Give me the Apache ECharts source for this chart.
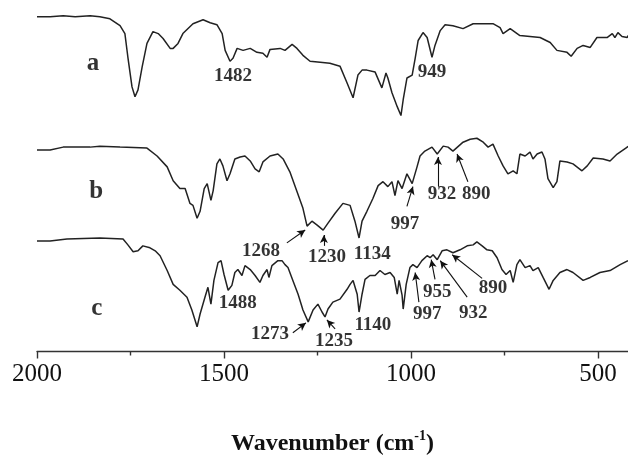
<!DOCTYPE html>
<html>
<head>
<meta charset="utf-8">
<script src="https://cdn.jsdelivr.net/npm/echarts@6/dist/echarts.min.js"></script>
<style>html,body{margin:0;padding:0;background:#fff}#c{width:628px;height:461px}</style>
</head>
<body>
<div id="c"></div>
<script>
// Wavenumbers (cm-1) and intensities (arbitrary offset transmittance units)
const wnA = [2000,1965,1930,1898,1858,1832,1805,1778,1765,1757,1746,1738,1730,1719,1706,1690,1676,1663,1644,1636,1623,1610,1583,1556,1537,1519,1505,1497,1484,1476,1465,1449,1430,1412,1396,1385,1377,1350,1337,1318,1305,1289,1270,1243,1217,1190,1171,1155,1142,1131,1118,1096,1078,1067,1062,1051,1037,1027,1021,1011,997,989,981,968,957,944,936,922,909,888,861,834,807,781,762,754,735,709,682,655,628,610,583,572,556,540,521,503,476,462,455,447,436,422,420];
const valA = [342,342,343,342,343,342,340,333,325,301,271,261,268,291,315,327,325,320,310,310,315,325,335,339,336,334,325,308,297,300,310,308,310,306,305,301,309,310,308,314,310,303,297,296,295,292,275,260,283,288,288,286,270,285,280,265,251,242,258,280,283,300,318,326,321,301,313,328,334,333,330,335,335,335,331,325,330,323,322,321,316,308,306,302,310,313,311,321,321,325,321,326,322,321,323];

const wnB = [2000,1965,1930,1858,1832,1778,1706,1679,1652,1636,1618,1604,1591,1583,1572,1564,1553,1545,1535,1529,1519,1511,1503,1492,1484,1471,1457,1444,1430,1417,1406,1396,1377,1356,1342,1324,1305,1289,1278,1265,1251,1235,1230,1222,1203,1182,1163,1150,1139,1131,1118,1102,1088,1075,1062,1051,1043,1035,1024,1011,997,984,976,963,944,930,914,901,888,861,842,824,807,794,781,767,754,741,727,717,709,695,682,674,663,650,642,634,620,610,602,583,567,543,529,513,487,468,449,422,420];
const valB = [207,207,210,210,211,210,209,201,190,176,168,168,153,151,138,145,168,173,156,166,193,198,191,176,183,198,200,201,196,188,185,195,201,203,198,185,165,148,130,135,131,126,126,133,143,153,151,135,118,135,145,158,171,175,170,175,161,176,168,183,173,190,201,206,210,203,211,210,206,215,218,219,215,210,213,201,191,183,186,183,203,201,205,198,203,205,198,178,169,175,196,195,193,186,191,199,198,196,203,210,211];

const wnC = [2000,1965,1920,1832,1770,1757,1743,1730,1717,1698,1684,1671,1652,1636,1618,1599,1586,1572,1564,1551,1543,1535,1527,1516,1508,1500,1489,1479,1471,1463,1452,1444,1430,1417,1404,1396,1385,1380,1372,1356,1345,1337,1329,1316,1302,1289,1275,1262,1249,1238,1230,1222,1209,1190,1171,1163,1155,1144,1139,1131,1123,1110,1096,1083,1070,1056,1045,1037,1032,1024,1021,1013,1003,995,984,971,957,949,941,930,917,904,888,869,850,834,824,810,797,783,770,757,746,735,727,717,709,695,682,674,660,647,631,620,602,583,567,540,521,495,468,441,420];
const valC = [115,115,117,118,117,111,104,105,110,108,105,100,85,71,65,58,45,28,41,58,68,51,75,93,95,81,65,70,83,86,80,90,86,80,73,80,86,78,90,95,95,91,88,75,61,45,33,45,51,43,38,46,53,56,66,71,75,61,43,61,76,80,80,85,81,83,78,61,75,60,46,71,88,91,88,95,100,98,101,96,105,106,103,106,110,111,114,110,106,105,98,86,81,85,73,91,96,88,90,85,88,78,66,75,83,86,83,75,78,83,85,91,95];

const majorTicks = [500, 1000, 1500, 2000];
const minorTicks = [750, 1250, 1750];

// Annotation texts and anchor points (data coordinates)
const traceLetters = ['a', 'b', 'c'];
const letterAt = [[1850, 295], [1842, 165], [1840, 47]];
const peakTexts = ['1482','949','1268','1230','1134','997','932','890','1488','1273','1235','1140','997','955','932','890'];
const peakAt = [[1476,282],[944,286],[1401,105],[1225,99],[1104,102],[1016,132],[917,162],[826,162],[1463,52],[1377,21],[1206,14],[1102,30],[957,41],[930,63],[834,42],[781,67]];
const arrowFrom = [[1332,113],[1233,110],[1011,150],[928,170],[848,175],[1316,22],[1203,26],[979,53],[936,76],[850,58],[810,77]];
const arrowTo   = [[1283,126],[1233,121],[995,170],[928,200],[877,203],[1281,32],[1225,35],[989,83],[946,96],[922,95],[890,101]];

const zip = (xs, ys) => xs.map((x, i) => [x, ys[i]]);
const lineColor = '#222';
const serif = '"Liberation Serif","DejaVu Serif",serif';

const chart = echarts.init(document.getElementById('c'), null, {renderer: 'canvas'});
const lineSeries = (data) => ({
  type: 'line', data, showSymbol: false, symbol: 'none', smooth: false,
  lineStyle: {color: lineColor, width: 1.5}, animation: false, silent: true
});

const option = {
  backgroundColor: '#fff',
  animation: false,
  grid: {left: 37, right: 0, top: 1, bottom: 105},
  xAxis: [{
    type: 'value', min: 420, max: 2000, inverse: true, position: 'bottom',
    axisLine: {show: true, lineStyle: {color: '#333', width: 1.4}},
    axisTick: {show: true, length: 7, customValues: majorTicks, lineStyle: {color: '#333', width: 1.4}},
    axisLabel: {show: true, customValues: majorTicks, fontFamily: serif, fontSize: 25, color: '#111', margin: 10,
                formatter: v => String(v)},
    splitLine: {show: false},
    name: 'Wavenumber (cm{sup|-1})', nameLocation: 'middle', nameGap: 78,
    nameTextStyle: {fontFamily: serif, fontSize: 24, fontWeight: 'bold', color: '#111',
      rich: {sup: {fontFamily: serif, fontSize: 14, fontWeight: 'bold', color: '#111', verticalAlign: 'top', padding: [0,0,15,0]}}}
  }, {
    type: 'value', min: 420, max: 2000, inverse: true, position: 'bottom',
    axisLine: {show: false},
    axisTick: {show: true, length: 4, customValues: minorTicks, lineStyle: {color: '#333', width: 1.4}},
    axisLabel: {show: false}, splitLine: {show: false}
  }],
  yAxis: {type: 'value', min: 3, max: 358, show: false, splitLine: {show: false}},
  series: [
    lineSeries(zip(wnA, valA)),
    lineSeries(zip(wnB, valB)),
    Object.assign(lineSeries(zip(wnC, valC)), {
      markLine: {
        silent: true, animation: false, symbol: ['none', 'arrow'], symbolSize: [6, 8],
        label: {show: false},
        lineStyle: {color: '#111', width: 1.1, type: 'solid'},
        data: arrowFrom.map((f, i) => [{coord: f}, {coord: arrowTo[i]}])
      }
    }),
    {
      type: 'scatter', symbolSize: 0, silent: true, animation: false,
      data: letterAt.map((p, i) => ({value: p, name: traceLetters[i]})),
      label: {show: true, position: 'inside', formatter: p => p.name,
              fontFamily: serif, fontSize: 25, fontWeight: 'bold', color: '#000'}
    },
    {
      type: 'scatter', symbolSize: 0, silent: true, animation: false,
      data: peakAt.map((p, i) => ({value: p, name: peakTexts[i]})),
      label: {show: true, position: 'inside', formatter: p => p.name,
              fontFamily: serif, fontSize: 19, fontWeight: 'bold', color: '#000'}
    }
  ]
};
chart.setOption(option);
</script>
</body>
</html>
